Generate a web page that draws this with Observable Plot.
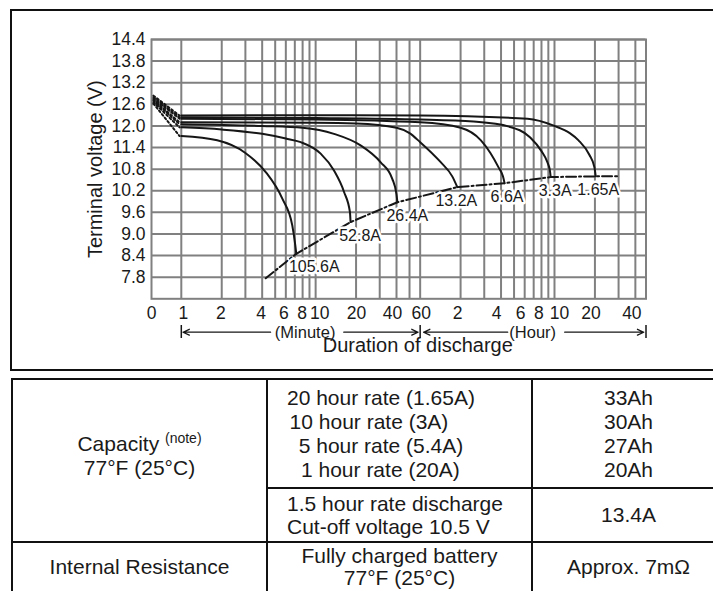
<!DOCTYPE html>
<html>
<head>
<meta charset="utf-8">
<script src="https://cdn.jsdelivr.net/npm/d3@7"></script>
<script src="https://cdn.jsdelivr.net/npm/@observablehq/plot@0.6"></script>
<style>
  html, body { margin: 0; padding: 0; background: #fff; width: 713px; height: 591px; overflow: hidden; }
  #page { position: relative; width: 713px; height: 591px; overflow: hidden;
          font-family: "Liberation Sans", Arial, Helvetica, sans-serif; color: #1a1a1a; }
  #frame { position: absolute; left: 10px; top: 9px; width: 740px; height: 358px; border: 2.5px solid #111; }
  #chart { position: absolute; left: 0; top: 0; }
  #chart svg text { paint-order: stroke; }
  #specs { position: absolute; left: 11px; top: 378px; width: 713px; border-collapse: collapse;
           table-layout: fixed; font-size: 21px; line-height: 24px; }
  #specs td { border: 2px solid #111; padding: 0; text-align: center; vertical-align: middle; }
  #specs sup { font-size: 14px; vertical-align: 0; position: relative; top: -8px; }
  .left { text-align: left !important; padding-left: 19px !important; }
</style>
</head>
<body>
<div id="page">
  <div id="frame"></div>
  <div id="chart"></div>
  <table id="specs">
    <colgroup><col style="width:255px"><col style="width:265px"><col style="width:193px"></colgroup>
    <tr style="height:109px">
      <td rowspan="2" style="line-height:22px;padding-bottom:10px">Capacity <sup>(note)</sup><br>77°F (25°C)</td>
      <td class="left" id="rateCell"></td>
      <td id="capCell"></td>
    </tr>
    <tr style="height:54px">
      <td class="left" id="dischargeCell" style="line-height:23px"></td>
      <td id="dischargeValue"></td>
    </tr>
    <tr style="height:50px">
      <td>Internal Resistance</td>
      <td id="resistCond" style="line-height:22px"></td>
      <td id="resistValue"></td>
    </tr>
  </table>
</div>
<script>
// Discharge characteristics: time in minutes, terminal voltage in volts.
const currents = ["105.6A", "52.8A", "26.4A", "13.2A", "6.6A", "3.3A", "1.65A"];

const curve105_6 = [[1, 11.72], [1.85, 11.6], [3, 11.25], [4.25, 10.72], [5.65, 9.98], [6.7, 9.24], [7.05, 8.7], [7.18, 8.45]];
const curve52_8  = [[1, 11.96], [2, 11.9], [4, 11.78], [6, 11.65], [7.74, 11.55], [10.9, 11.23], [13.7, 10.76], [16.3, 10.16], [18.0, 9.61], [18.2, 9.33]];
const curve26_4  = [[1, 12.05], [4, 12.0], [8, 11.95], [13.7, 11.78], [21.6, 11.46], [30.5, 10.99], [37.2, 10.53], [40.0, 10.1], [40.6, 9.88]];
const curve13_2  = [[1, 12.1], [10, 12.09], [20, 12.07], [40, 11.95], [50, 11.8], [60, 11.55], [85, 11.0], [104, 10.6], [113.5, 10.3]];
const curve6_6   = [[1, 12.2], [10, 12.18], [60, 12.1], [120, 11.95], [170, 11.6], [200, 11.25], [230, 10.85], [248, 10.6], [255, 10.41]];
const curve3_3   = [[1, 12.24], [10, 12.22], [60, 12.18], [150, 12.12], [276, 11.98], [396, 11.68], [480, 11.3], [530, 11.0], [555, 10.75], [562, 10.58]];
const curve1_65  = [[1, 12.29], [10, 12.3], [60, 12.29], [378, 12.2], [600, 12.0], [780, 11.8], [906, 11.6], [1090, 11.2], [1190, 10.85], [1216, 10.6]];

// Open-circuit start of each discharge (dotted lead-in before the first minute)
const leadStartV = [12.62, 12.66, 12.7, 12.73, 12.76, 12.8, 12.84];

// Final discharge voltage line
const cutoffT = [4.25, 7.18, 18.2, 40.6, 113.5, 255, 562, 1216, 1800];
const cutoffV = [7.77, 8.45, 9.33, 9.88, 10.3, 10.41, 10.58, 10.6, 10.6];

// Axes
const xTicks = [0.6, 1, 2, 4, 6, 8, 10, 20, 40, 60, 120, 240, 360, 480, 600, 1200, 2400];
const xTickLabels = ["0", "1", "2", "4", "6", "8", "10", "20", "40", "60", "2", "4", "6", "8", "10", "20", "40"];
const gridX = [1, 2, 3, 4, 5, 6, 7, 8, 9, 10, 20, 30, 40, 50, 60, 120, 180, 240, 300, 360, 420, 480, 540, 600, 1200, 1800, 2400];
const yTicks = [7.8, 8.4, 9.0, 9.6, 10.2, 10.8, 11.4, 12.0, 12.6, 13.2, 13.8, 14.4];

// Minute / hour spans below the axis
const spanBounds = [1, 60, 2880];
const spanNames = ["(Minute)", "(Hour)"];

// Specification table
const rateLabels = ["20 hour rate (1.65A)", "10 hour rate (3A)", "5 hour rate (5.4A)", "1 hour rate (20A)"];
const rateCapacities = ["33Ah", "30Ah", "27Ah", "20Ah"];
const dischargeLines = ["1.5 hour rate discharge", "Cut-off voltage 10.5 V"];
const dischargeCurrent = "13.4A";
const resistanceLines = ["Fully charged battery", "77°F (25°C)"];
const resistanceValue = "Approx. 7mΩ";

// ---- build chart ----
const curves = [curve105_6, curve52_8, curve26_4, curve13_2, curve6_6, curve3_3, curve1_65];
const dischargeRows = curves.flatMap((pts, i) => pts.map(([t, v]) => ({current: currents[i], t, v})));
const leadRows = curves.flatMap((pts, i) => [
  {current: currents[i], t: 0.62, v: leadStartV[i]},
  {current: currents[i], t: 0.97, v: pts[0][1]}
]);
const cutoffRows = cutoffT.map((t, i) => ({t, v: cutoffV[i]}));
const endRows = curves.map((pts, i) => ({current: currents[i], t: pts[pts.length - 1][0], v: pts[pts.length - 1][1]}));
const xTickRows = xTicks.map((t, i) => ({t, label: xTickLabels[i]}));

// small horizontal nudges that keep the crowded tick labels apart
const tickDx = [0, 2, -1, -1, -2, -0.5, 4, 0.5, -4, 1, -3, -4.5, -4, -2.5, 5, -4, -3.5];
const labelDx = [18, 9.5, 10, -1, 2.5, 4.5, 2.5];
const gridColor = "#808080";
const ink = "#161616";
// rows under the frame, in the y scale's units (volts below the 7.2 V floor)
const spanRowV = 6.272, barTopV = 6.458, barBottomV = 6.097;

const spanArrows = [
  {x1: 4.62, x2: spanBounds[0] * 1.03},
  {x1: 16.2, x2: spanBounds[1] * 0.965},
  {x1: 269, x2: spanBounds[1] * 1.06},
  {x1: 714.8, x2: spanBounds[2] * 0.962}
];
const spanLabels = [{x: 8.35, text: spanNames[0]}, {x: 412.8, text: spanNames[1]}];

const chart = Plot.plot({
  width: 713,
  height: 375,
  marginLeft: 151,
  marginRight: 67.5,
  marginTop: 39,
  marginBottom: 76.7,
  style: {fontFamily: "'Liberation Sans', Arial, sans-serif", fontSize: "17.5px", color: "#1a1a1a", background: "transparent", overflow: "visible"},
  x: {type: "log", domain: [0.6, 2880], axis: null},
  y: {domain: [7.2, 14.4], ticks: yTicks, tickFormat: d => d.toFixed(1), tickSize: 0, tickPadding: 6, label: null},
  marks: [
    Plot.ruleX(gridX, {stroke: gridColor, strokeWidth: 2}),
    Plot.ruleY(yTicks, {stroke: gridColor, strokeWidth: 2}),
    Plot.frame({stroke: gridColor, strokeWidth: 2}),
    ...xTickRows.map((d, i) => Plot.text([d], {x: "t", text: "label", frameAnchor: "bottom", lineAnchor: "middle", dx: tickDx[i], dy: 15, fontSize: 17.5, fill: "#1a1a1a"})),
    Plot.line(leadRows, {x: "t", y: "v", z: "current", stroke: ink, strokeWidth: 2, strokeDasharray: "2,2.5"}),
    Plot.line(dischargeRows, {x: "t", y: "v", z: "current", stroke: ink, strokeWidth: 2, curve: "monotone-x"}),
    Plot.line(cutoffRows, {x: "t", y: "v", stroke: ink, strokeWidth: 2, strokeDasharray: "10,3,2,3"}),
    ...endRows.map((d, i) => Plot.text([d], {x: "t", y: "v", text: "current", dx: labelDx[i], dy: 13.5, fontSize: 16, fill: "#1a1a1a", stroke: "white", strokeWidth: 5})),
    Plot.text(["Terminal voltage (V)"], {frameAnchor: "left", textAnchor: "middle", lineAnchor: "middle", dx: -56, rotate: -90, fontSize: 20, fill: "#1a1a1a"}),
    Plot.text(["Duration of discharge"], {frameAnchor: "bottom", textAnchor: "middle", lineAnchor: "middle", dx: 19, dy: 47, fontSize: 20, fill: "#1a1a1a"}),
    Plot.ruleX(spanBounds, {y1: barTopV, y2: barBottomV, stroke: ink, strokeWidth: 1.5}),
    Plot.arrow(spanArrows, {x1: "x1", x2: "x2", y1: () => spanRowV, y2: () => spanRowV, stroke: ink, strokeWidth: 1.3, headLength: 8, headAngle: 50}),
    Plot.text(spanLabels, {x: "x", y: () => spanRowV, text: "text", fontSize: 16.5, fill: "#1a1a1a"})
  ]
});
document.getElementById("chart").appendChild(chart);

// ---- fill table ----
const rateCell = document.getElementById("rateCell");
const rateIndent = [0, 2.6, 11.7, 14];
rateLabels.forEach((t, i) => {
  const div = document.createElement("div");
  div.textContent = t;
  div.style.marginLeft = rateIndent[i] + "px";
  rateCell.appendChild(div);
});
document.getElementById("capCell").innerHTML = rateCapacities.join("<br>");
document.getElementById("dischargeCell").innerHTML = dischargeLines.join("<br>");
document.getElementById("dischargeValue").textContent = dischargeCurrent;
document.getElementById("resistCond").innerHTML = resistanceLines.join("<br>");
document.getElementById("resistValue").textContent = resistanceValue;
</script>
</body>
</html>
